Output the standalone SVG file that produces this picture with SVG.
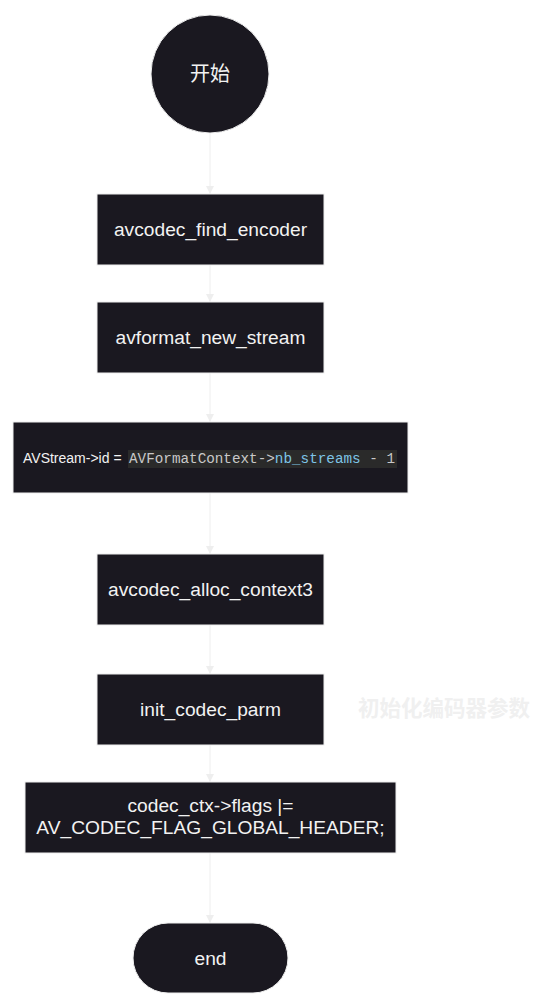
<svg xmlns="http://www.w3.org/2000/svg" width="560" height="1007" viewBox="0 0 560 1007">
<style>
.node{fill:#1a1820;stroke:#eeeeee;stroke-width:1}
.lbl{font-family:"Liberation Sans",Arial,sans-serif;font-size:19.2px;fill:#f2f2f2;text-anchor:middle}
.edge{stroke:#eeeeee;stroke-width:1;fill:none}
.code{font-family:"Liberation Mono","Courier New",monospace;font-size:14.3px;fill:#c8c8c8}
</style>
<defs>
<marker id="arr" viewBox="0 0 10 10" refX="10" refY="5" markerWidth="8" markerHeight="8" markerUnits="userSpaceOnUse" orient="auto">
<path d="M0,0 L10,5 L0,10 z" fill="#eeeeee"/>
</marker>
</defs>
<rect width="560" height="1007" fill="#ffffff"/>
<g id="connectors">
<line class="edge" x1="210" y1="133" x2="210" y2="194" marker-end="url(#arr)"/>
<line class="edge" x1="210" y1="265" x2="210" y2="302" marker-end="url(#arr)"/>
<line class="edge" x1="210" y1="373" x2="210" y2="422" marker-end="url(#arr)"/>
<line class="edge" x1="210" y1="493" x2="210" y2="554" marker-end="url(#arr)"/>
<line class="edge" x1="210" y1="625" x2="210" y2="674" marker-end="url(#arr)"/>
<line class="edge" x1="210" y1="745" x2="210" y2="782" marker-end="url(#arr)"/>
<line class="edge" x1="210" y1="853" x2="210" y2="923" marker-end="url(#arr)"/>
</g>
<g id="start">
<circle class="node" cx="210" cy="74" r="59"/>
<text class="lbl" x="210" y="81" style="font-family:'Liberation Sans','Noto Sans CJK SC',sans-serif;font-size:20px">开始</text>
</g>
<g id="find_encoder">
<rect class="node" x="97" y="194" width="227" height="71"/>
<text class="lbl" x="210.5" y="236">avcodec_find_encoder</text>
</g>
<g id="new_stream">
<rect class="node" x="97" y="302" width="227" height="71"/>
<text class="lbl" x="210.5" y="344">avformat_new_stream</text>
</g>
<g id="stream_id">
<rect class="node" x="13" y="422" width="395" height="71"/>
<rect x="128" y="450" width="269" height="18" fill="#2a2a2a"/>
<text x="23" y="463" style="font-family:'Liberation Sans',Arial,sans-serif;font-size:14px;fill:#f2f2f2">AVStream-&gt;id =</text>
<text class="code" x="129" y="463">AVFormatContext-&gt;<tspan fill="#7ec4e6">nb_streams</tspan> - 1</text>
</g>
<g id="alloc_context">
<rect class="node" x="97" y="554" width="227" height="71"/>
<text class="lbl" x="210.5" y="596">avcodec_alloc_context3</text>
</g>
<g id="init_codec_parm">
<rect class="node" x="97" y="674" width="227" height="71"/>
<text class="lbl" x="210.5" y="716">init_codec_parm</text>
</g>
<g id="annotation">
<text x="358" y="716" style="font-family:'Noto Sans CJK SC',sans-serif;font-size:21.5px;font-weight:bold;fill:#f0f0f0">初始化编码器参数</text>
</g>
<g id="flags">
<rect class="node" x="25" y="782" width="371" height="71"/>
<text class="lbl" x="210.5" y="812">codec_ctx-&gt;flags |=</text>
<text class="lbl" x="210.5" y="834">AV_CODEC_FLAG_GLOBAL_HEADER;</text>
</g>
<g id="end">
<rect class="node" x="133" y="923" width="155" height="70" rx="35" ry="35"/>
<text class="lbl" x="210.5" y="965">end</text>
</g>
</svg>
